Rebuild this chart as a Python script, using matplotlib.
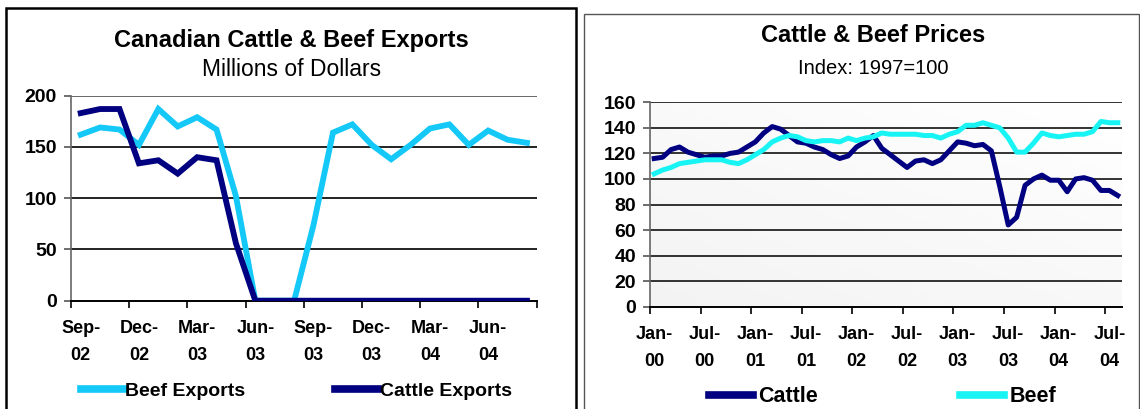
import numpy as np
import matplotlib
matplotlib.use("Agg")
import matplotlib.pyplot as plt
from matplotlib.patches import Rectangle

plt.rcParams['font.family'] = ['Liberation Sans', 'DejaVu Sans']

# Exports, monthly Sep-02 .. Aug-04, millions of dollars
export_ticks = ["Sep-\n02", "Dec-\n02", "Mar-\n03", "Jun-\n03",
                "Sep-\n03", "Dec-\n03", "Mar-\n04", "Jun-\n04"]
beef_exports = [162, 169, 167, 152, 187, 170, 179, 167, 102, 0, 0, 0,
                74, 164, 172, 152, 138, 152, 168, 172, 152, 166, 157, 154]
cattle_exports = [183, 187, 187, 134, 137, 124, 140, 137, 56, 0, 0, 0,
                  0, 0, 0, 0, 0, 0, 0, 0, 0, 0, 0, 0]

# Price index, monthly Jan-00 .. Aug-04 (1997=100)
price_ticks = ["Jan-\n00", "Jul-\n00", "Jan-\n01", "Jul-\n01", "Jan-\n02",
               "Jul-\n02", "Jan-\n03", "Jul-\n03", "Jan-\n04", "Jul-\n04"]
cattle_price = [116, 117, 123, 125, 121, 119, 117, 118, 118, 120, 121, 125,
                129, 136, 141, 139, 134, 129, 128, 125, 123, 119, 116, 118,
                125, 129, 134, 124, 119, 114, 109, 114, 115, 112, 115, 122,
                129, 128, 126, 127, 122, 94, 64, 70, 95, 100, 103, 99,
                99, 90, 100, 101, 99, 91, 91, 87]
beef_price = [104, 107, 109, 112, 113, 114, 115, 115, 115, 113, 112, 115,
              119, 123, 129, 132, 134, 133, 130, 129, 130, 130, 129, 132,
              130, 132, 133, 136, 135, 135, 135, 135, 134, 134, 132, 135,
              137, 142, 142, 144, 142, 140, 132, 121, 121, 128, 136, 134,
              133, 134, 135, 135, 137, 145, 144, 144]

W, H = 1140, 409
fig = plt.figure(figsize=(W / 100, H / 100), dpi=100)


def box(x0, y0, x1, y1):
    # pixel box (top-left origin) -> figure fraction rect
    return [x0 / W, 1 - y1 / H, (x1 - x0) / W, (y1 - y0) / H]


# panel frames
fig.patches.append(Rectangle((6 / W, -0.05), 570 / W, 1.05 - 8 / H,
                             transform=fig.transFigure, fill=False,
                             edgecolor='black', lw=1.8))
fig.patches.append(Rectangle((584 / W, -0.05), 555 / W, 1.05 - 14 / H,
                             transform=fig.transFigure, fill=False,
                             edgecolor='#555555', lw=1.0))

navy = '#000080'
sky = '#14c8f8'
cyan = '#18f4f4'


def style_axes(ax, labelsize):
    ax.tick_params(axis='x', which='major', length=5, width=1.2, color='black')
    ax.tick_params(axis='y', length=5, width=1.2, color='#555555', pad=5,
                   labelsize=labelsize)
    for lab in ax.get_yticklabels():
        lab.set_fontweight('bold')
    for s in ['top', 'right']:
        ax.spines[s].set_visible(False)
    ax.spines['left'].set_color('#666666')
    ax.spines['left'].set_linewidth(1.2)
    ax.spines['bottom'].set_linewidth(1.4)


# ---- left: exports ----
ax1 = fig.add_axes(box(71, 95.7, 536.7, 300.7))
n1 = len(beef_exports)
x1 = np.arange(n1)
ax1.plot(x1, beef_exports, color=sky, lw=4.2, solid_joinstyle='miter', zorder=3)
ax1.plot(x1, cattle_exports, color=navy, lw=4.2, solid_joinstyle='miter', zorder=4)
ax1.set_xlim(-0.5, n1 - 0.5)
ax1.set_ylim(0, 200)
ax1.set_yticks(range(0, 201, 50))
for v in range(50, 201, 50):
    ax1.axhline(v, color='#222222' if v < 200 else '#666666', lw=1.4, zorder=1)
ax1.set_xticks(np.arange(-0.5, n1, 3))
ax1.set_xticklabels([])
ax1.set_xticks(np.arange(0, n1, 3), minor=True)
ax1.set_xticklabels(export_ticks, minor=True, fontsize=13, fontweight='bold',
                    linespacing=1.75)
ax1.tick_params(axis='x', which='minor', length=0, pad=14)
style_axes(ax1, 14)
fig.text(291 / W, 1 - 40 / H, "Canadian Cattle & Beef Exports", ha='center',
         va='center', fontsize=17, fontweight='bold')
fig.text(292 / W, 1 - 70 / H, "Millions of Dollars", ha='center',
         va='center', fontsize=16.5)
leg1 = ax1.legend(["Beef Exports", "Cattle Exports"], loc='center left',
                  bbox_to_anchor=(0.0, -0.44), ncol=2, frameon=False,
                  handlelength=2.2, handletextpad=0.1, columnspacing=4.6,
                  prop={'weight': 'bold', 'size': 14}, borderpad=0)
for h in leg1.legend_handles:
    h.set_linewidth(5.5)

# ---- right: prices ----
ax2 = fig.add_axes(box(650, 102.3, 1122, 306.7))
n2 = len(cattle_price)
x2 = np.arange(n2)
gx, gy = np.meshgrid(np.linspace(0, 1, 64), np.linspace(0, 1, 64))
grad = 0.55 * gy + 0.45 * gx
ax2.imshow(grad, extent=(0, 1, 0, 1), transform=ax2.transAxes, origin='lower',
           cmap='Greys_r', vmin=-9, vmax=1, aspect='auto', zorder=0)
ax2.plot(x2, cattle_price, color=navy, lw=3.6, zorder=3)
ax2.plot(x2, beef_price, color=cyan, lw=3.6, zorder=4)
ax2.set_xlim(-0.5, n2 - 0.5)
ax2.set_ylim(0, 160)
ax2.set_yticks(range(0, 161, 20))
for v in range(20, 161, 20):
    ax2.axhline(v, color='#111111', lw=1.2, zorder=1)
ax2.set_xticks(np.arange(-0.5, n2 - 1, 6))
ax2.set_xticklabels([])
ax2.set_xticks(np.arange(0, n2, 6), minor=True)
ax2.set_xticklabels(price_ticks, minor=True, fontsize=13, fontweight='bold',
                    linespacing=1.75)
ax2.tick_params(axis='x', which='minor', length=0, pad=14)
style_axes(ax2, 14)
fig.text(873 / W, 1 - 35 / H, "Cattle & Beef Prices", ha='center',
         va='center', fontsize=17, fontweight='bold')
fig.text(873 / W, 1 - 68 / H, "Index: 1997=100", ha='center',
         va='center', fontsize=14.5)
leg2 = ax2.legend(["Cattle", "Beef"], loc='center left',
                  bbox_to_anchor=(0.102, -0.44), ncol=2, frameon=False,
                  handlelength=2.05, handletextpad=0.25, columnspacing=6.6,
                  prop={'weight': 'bold', 'size': 15.5}, borderpad=0)
for h in leg2.legend_handles:
    h.set_linewidth(5.5)

fig.savefig("out.png", dpi=100)
